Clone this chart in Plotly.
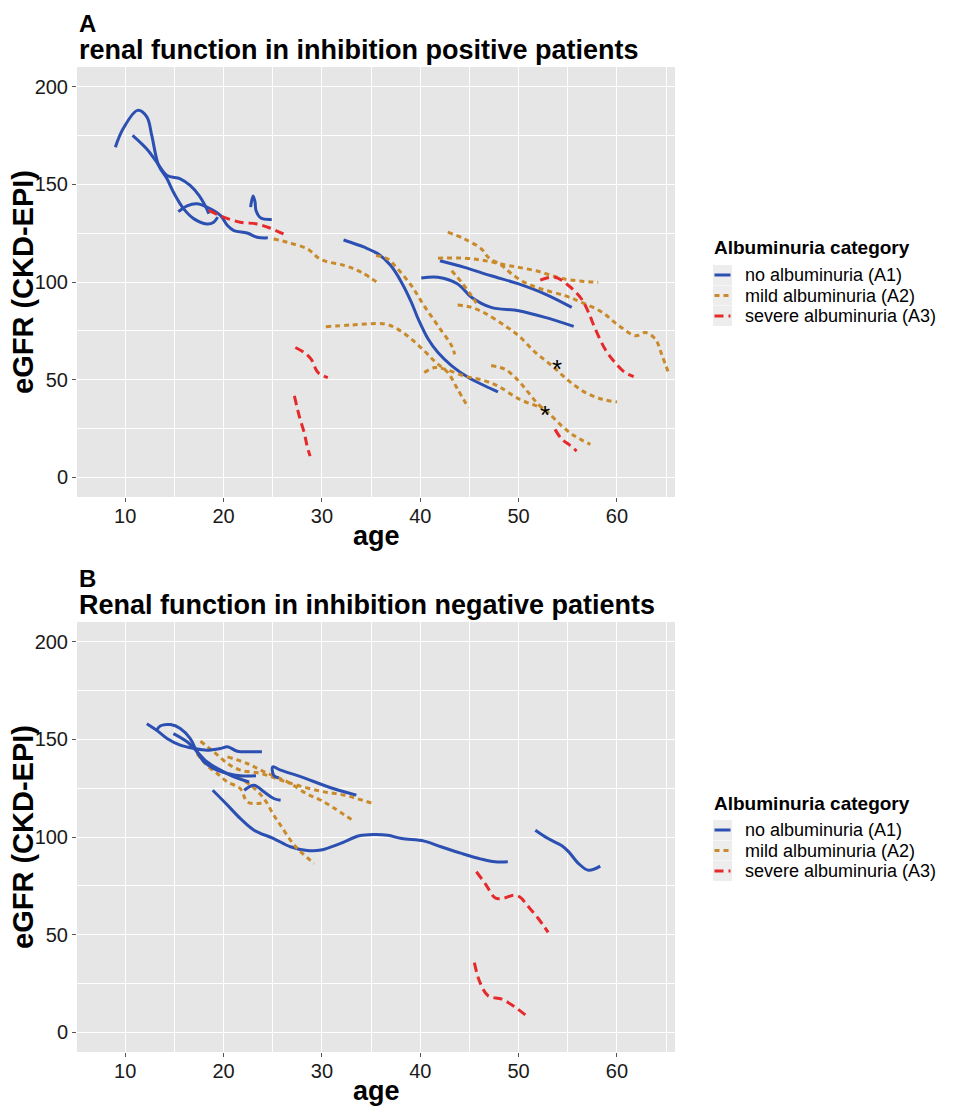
import plotly.graph_objects as go

# ---------------- data ----------------
# Panel A: inhibition positive patients
# no albuminuria (A1)
a_no1_age = [9.0, 9.8, 11.26, 12.2, 12.7, 13.4, 14.25, 14.9, 15.95, 17.0, 18.3, 19.0, 19.4]
a_no1_egfr = [169, 178.5, 187.8, 184.5, 175, 159.6, 152.8, 146, 137.4, 132.3, 129.7, 130.6, 133.2]
a_no2_age = [10.75, 12.2, 13.2, 14.25, 15.6, 16.6, 17.5, 18.2, 18.5]
a_no2_egfr = [175, 168, 161.4, 154.5, 152.8, 149.4, 144.3, 138.3, 134.9]
a_no3_age = [15.4, 16.3, 17.3, 18.3, 19.7, 20.4, 21.05, 22.4, 23.4, 24.5]
a_no3_egfr = [136, 139, 140, 138.3, 134, 128.9, 126.3, 125.1, 122.9, 122.6]
a_no4_age = [22.75, 23.0, 23.2, 23.3, 23.8, 24.9]
a_no4_egfr = [138.3, 144, 141, 136.6, 132.7, 132]
a_no5_age = [32.2, 34.3, 35.7, 37.0, 38.1, 39.1, 39.8, 40.8, 41.8, 43.2, 44.9, 46.6, 47.9]
a_no5_egfr = [121.5, 117.8, 114.4, 108.4, 99.8, 89.6, 81, 70.8, 63.9, 57.1, 51.1, 46.8, 43.8]
a_no6_age = [42.0, 44.5, 47.2, 50.0, 52.7, 55.4]
a_no6_egfr = [110.9, 107.5, 103.2, 99, 93.8, 87.0]
a_no7_age = [40.1, 41.8, 43.8, 45.2, 47.2, 50.0, 52.7, 55.6]
a_no7_egfr = [102, 102.4, 99, 92.2, 87, 85.3, 81.9, 77.3]
# mild albuminuria (A2)
a_mi1_age = [25.1, 26.5, 28.5, 29.9, 32.3, 34.0, 35.85]
a_mi1_egfr = [122, 120.3, 117, 111.5, 108.4, 105, 99]
a_mi2_age = [35.5, 36.7, 37.7, 39.1, 40.4, 41.8, 43.2, 43.5]
a_mi2_egfr = [113.5, 111.8, 106.7, 98.1, 87.8, 77.6, 67.3, 63]
a_mi3_age = [30.4, 33.0, 36.4, 37.7, 39.1, 40.4, 41.6, 42.8, 43.8, 44.9]
a_mi3_egfr = [77.1, 78, 78.5, 75.9, 70.8, 64.8, 58.8, 53.7, 45.1, 35.7]
a_mi4_age = [40.4, 41.5, 42.5, 44.5, 46.6, 48.0, 50.1, 52.5]
a_mi4_egfr = [53.7, 56.2, 55.4, 51.9, 49.4, 46.5, 40, 35.5]
a_mi5_age = [47.2, 48.6, 50.0, 51.0, 52.0, 53.0, 54.4, 55.7, 57.3]
a_mi5_egfr = [57.1, 55.4, 49.4, 43.4, 37.4, 33.2, 26.3, 21.2, 16.9]
a_mi6_age = [42.8, 44.5, 46.2, 46.9, 48.3, 49.3, 50.6, 52.3, 54.7, 56.4, 58.5, 60.2, 61.9, 62.9, 63.9, 64.6, 65.3]
a_mi6_egfr = [125.5, 122, 117, 112.7, 108.4, 104.1, 99.8, 96.4, 93, 89.6, 84.5, 77.6, 72.5, 74.2, 70.8, 62.2, 52.8]
a_mi7_age = [41.8, 44.5, 46.6, 49.0, 51.7, 54.7, 58.1]
a_mi7_egfr = [112.2, 112.2, 110.9, 108.4, 105.8, 101.5, 99.8]
a_mi8_age = [43.2, 44.2, 45.2, 45.9]
a_mi8_egfr = [105.8, 99.8, 93, 87.8]
a_mi9_age = [43.8, 45.2, 46.6, 48.6, 50.0, 51.7, 53.4, 55.1, 56.8, 58.5, 60.0]
a_mi9_egfr = [88.2, 87, 84, 77.6, 72.5, 64, 57.1, 49.4, 43.4, 40, 38.6]
# severe albuminuria (A3)
a_se1_age = [18.5, 20.0, 21.7, 23.4, 24.5, 26.5]
a_se1_egfr = [136.6, 133.2, 130.6, 129.7, 128, 123.7]
a_se2_age = [27.3, 28.2, 28.9, 29.6, 30.6]
a_se2_egfr = [66.5, 63.9, 60.5, 53.7, 51.1]
a_se3_age = [27.2, 27.7, 28.2, 28.5, 28.8]
a_se3_egfr = [41.7, 31.4, 22.9, 16, 10.9]
a_se4_age = [53.7, 54.4, 55.1, 55.9]
a_se4_egfr = [24.6, 19.5, 16.9, 13.5]
a_se5_age = [52.2, 53.7, 55.1, 56.4, 57.1, 57.8, 58.8, 59.8, 60.8, 61.7]
a_se5_egfr = [101, 102.4, 98.1, 91.3, 84.5, 75.9, 65.6, 58.8, 53.7, 51.6]
# asterisk markers in panel A
a_star_age = [53.9, 52.7]
a_star_egfr = [59.3, 35.7]

# Panel B: inhibition negative patients
b_no1_age = [12.2, 13.2, 14.25, 15.6, 17.0, 18.3, 19.7, 20.4, 21.4, 22.75, 23.9]
b_no1_egfr = [158, 154.6, 150.4, 147, 145.3, 144.4, 145.3, 146.2, 143.9, 143.6, 143.6]
b_no2_age = [13.2, 13.6, 14.6, 15.6, 16.6, 17.3, 18.0, 19.0, 20.4, 21.7, 23.3]
b_no2_egfr = [154.6, 156.9, 157.5, 155.5, 150.4, 143.6, 138.5, 135, 132.5, 131.3, 131.3]
b_no3_age = [14.9, 16.3, 17.0, 18.3, 19.7, 21.05, 22.6]
b_no3_egfr = [152.9, 148.7, 145.3, 138.5, 134.2, 130.8, 128.2]
b_no4_age = [22.1, 23.1, 24.1, 25.1, 25.8]
b_no4_egfr = [123.9, 126.5, 123.1, 119.7, 118.8]
b_no5_age = [18.9, 20.4, 21.7, 23.1, 25.1, 26.8, 28.5, 29.9, 31.9, 33.8, 35.3, 36.7, 38.1, 40.4, 42.1, 44.2, 46.2, 47.6, 48.9]
b_no5_egfr = [123.9, 116.3, 109.5, 103.5, 99.2, 95, 93.1, 93.3, 96.7, 100.6, 101.3, 100.9, 99.2, 97.9, 95, 91.6, 88.7, 87.3, 87.3]
b_no6_age = [51.7, 53.0, 54.4, 55.1, 56.1, 57.1, 58.3]
b_no6_egfr = [103.5, 99.2, 95.5, 92.4, 86.4, 83, 85.1]
b_no7_age = [25.6, 25.1, 25.0, 25.8, 27.9, 30.6, 33.5]
b_no7_egfr = [130.2, 131.5, 135.9, 134.2, 130.8, 125.7, 121.4]
b_mi1_age = [17.65, 19.0, 20.4, 21.7, 23.8, 25.8, 27.5, 29.9, 32.3, 35.2]
b_mi1_egfr = [149, 143.6, 137.6, 134.2, 132.5, 129.1, 126.5, 123.4, 121.4, 117.1]
b_mi2_age = [20.4, 22.4, 24.1, 26.5, 28.5, 29.9, 31.3, 33.0]
b_mi2_egfr = [141, 137.6, 133.4, 128.2, 122, 118.8, 114.6, 108.9]
b_mi3_age = [17.3, 18.3, 19.35, 20.4, 21.7, 22.4, 23.4, 24.3]
b_mi3_egfr = [142.7, 136.7, 132.5, 128.2, 124.8, 118, 117.1, 118]
b_mi4_age = [21.4, 22.75, 24.1, 25.1, 25.8, 27.2, 29.2]
b_mi4_egfr = [130.8, 126.5, 119.7, 111.2, 106, 95.8, 86.4]
b_se1_age = [45.7, 46.6, 47.6, 48.3, 49.5, 50.1, 51.0, 52.0, 53.0]
b_se1_egfr = [82.2, 76.2, 68.9, 68.5, 70.2, 69.4, 64.3, 58.3, 51.2]
b_se2_age = [45.5, 46.05, 46.9, 48.3, 49.6, 50.8]
b_se2_egfr = [35.7, 25.9, 18.8, 17, 13.1, 8.5]

categories = ["no albuminuria (A1)", "mild albuminuria (A2)", "severe albuminuria (A3)"]
x_ticks = [10, 20, 30, 40, 50, 60]
y_ticks = [0, 50, 100, 150, 200]

# ---------------- styling ----------------
# the page body has an 8px default margin; the figure is laid out in page pixels
OFF = 8
W, H = 957 - OFF, 1108 - OFF
BLUE, ORANGE, RED = "#2C4FB2", "#C98A2B", "#E62A2B"
STYLE = {
    categories[0]: dict(color=BLUE, dash="solid"),
    categories[1]: dict(color=ORANGE, dash="5px,4px"),
    categories[2]: dict(color=RED, dash="9px,5px"),
}
FONT = "Arial, Liberation Sans, sans-serif"

panel_a = [
    (a_no1_age, a_no1_egfr, 0), (a_no2_age, a_no2_egfr, 0), (a_no3_age, a_no3_egfr, 0),
    (a_no4_age, a_no4_egfr, 0), (a_no5_age, a_no5_egfr, 0), (a_no6_age, a_no6_egfr, 0),
    (a_no7_age, a_no7_egfr, 0),
    (a_mi1_age, a_mi1_egfr, 1), (a_mi2_age, a_mi2_egfr, 1), (a_mi3_age, a_mi3_egfr, 1),
    (a_mi4_age, a_mi4_egfr, 1), (a_mi5_age, a_mi5_egfr, 1), (a_mi6_age, a_mi6_egfr, 1),
    (a_mi7_age, a_mi7_egfr, 1), (a_mi8_age, a_mi8_egfr, 1), (a_mi9_age, a_mi9_egfr, 1),
    (a_se1_age, a_se1_egfr, 2), (a_se2_age, a_se2_egfr, 2), (a_se3_age, a_se3_egfr, 2),
    (a_se4_age, a_se4_egfr, 2), (a_se5_age, a_se5_egfr, 2),
]
panel_b = [
    (b_no5_age, b_no5_egfr, 0), (b_no6_age, b_no6_egfr, 0),
    (b_mi1_age, b_mi1_egfr, 1), (b_mi2_age, b_mi2_egfr, 1), (b_mi3_age, b_mi3_egfr, 1),
    (b_mi4_age, b_mi4_egfr, 1),
    (b_no1_age, b_no1_egfr, 0), (b_no2_age, b_no2_egfr, 0), (b_no3_age, b_no3_egfr, 0),
    (b_no4_age, b_no4_egfr, 0), (b_no7_age, b_no7_egfr, 0),
    (b_se1_age, b_se1_egfr, 2), (b_se2_age, b_se2_egfr, 2),
]

fig = go.Figure()
for panel, (xa, ya) in ((panel_a, ("x", "y")), (panel_b, ("x2", "y2"))):
    for ages, egfr, ci in panel:
        st = STYLE[categories[ci]]
        fig.add_trace(go.Scatter(
            x=ages, y=egfr, mode="lines", xaxis=xa, yaxis=ya,
            line=dict(color=st["color"], dash=st["dash"], width=3, shape="spline", smoothing=1.0),
            name=categories[ci], showlegend=False, hoverinfo="skip",
        ))


def px_x(p):
    return (p - OFF) / W


def px_y(p):
    return 1 - (p - OFF) / H


plot_left, plot_right = 77, 675
a_top, a_bot = 67, 497
b_top, b_bot = 622, 1052

axis_common = dict(
    showgrid=True, gridcolor="white", gridwidth=1.4, zeroline=False,
    ticks="outside", ticklen=4, tickcolor="#555", tickwidth=1,
    tickfont=dict(family=FONT, size=20, color="#1a1a1a"),
    showline=False,
)
xcommon = dict(axis_common, range=[5.1, 65.9], tickmode="array", tickvals=x_ticks,
               ticklabelstandoff=-3,
               minor=dict(showgrid=True, gridcolor="white", gridwidth=0.7, dtick=5, tick0=5, ticks=""),
               domain=[px_x(plot_left), px_x(plot_right)])
ycommon = dict(axis_common, range=[-10, 210], tickmode="array", tickvals=y_ticks,
               minor=dict(showgrid=True, gridcolor="white", gridwidth=0.7, dtick=25, tick0=25, ticks=""))

fig.update_layout(
    width=W, height=H,
    margin=dict(l=0, r=0, t=0, b=0),
    paper_bgcolor="white", plot_bgcolor="#E6E6E6",
    showlegend=False,
    font=dict(family=FONT, color="black"),
    xaxis=dict(xcommon, anchor="y"),
    yaxis=dict(ycommon, anchor="x", domain=[px_y(a_bot), px_y(a_top)]),
    xaxis2=dict(xcommon, anchor="y2"),
    yaxis2=dict(ycommon, anchor="x2", domain=[px_y(b_bot), px_y(b_top)]),
)

annotations = []
shapes = []


def text_ann(txt, x, y, size, bold=False, xanchor="left", angle=0):
    annotations.append(dict(
        text=f"<b>{txt}</b>" if bold else txt, x=px_x(x), y=px_y(y), xref="paper", yref="paper",
        xanchor=xanchor, yanchor="middle", showarrow=False, textangle=angle,
        font=dict(family=FONT, size=size, color="black"),
    ))


for letter, title, top, bot in (("A", "renal function in inhibition positive patients", a_top, a_bot),
                                ("B", "Renal function in inhibition negative patients", b_top, b_bot)):
    text_ann(letter, plot_left, top - 44, 24, bold=True)
    text_ann(title, plot_left, top - 17, 27, bold=True)
    text_ann("eGFR (CKD-EPI)", 23, (top + bot) / 2, 29, bold=True, xanchor="center", angle=-90)
    text_ann("age", (plot_left + plot_right) / 2, bot + 39, 27, bold=True, xanchor="center")
    # legend (drawn as text + key shapes)
    off = top - a_top
    text_ann("Albuminuria category", 712, 248 + off, 19, bold=True)
    for i, cat in enumerate(categories):
        yc = 275 + off + 20.5 * i
        text_ann(cat, 743, yc, 18)
        shapes.append(dict(type="rect", xref="paper", yref="paper",
                           x0=px_x(713), x1=px_x(732), y0=px_y(yc + 10), y1=px_y(yc - 10),
                           fillcolor="#EDEDED", line=dict(width=0), layer="below"))
        st = STYLE[cat]
        shapes.append(dict(type="line", xref="paper", yref="paper",
                           x0=px_x(714.5), x1=px_x(730.5), y0=px_y(yc), y1=px_y(yc),
                           line=dict(color=st["color"], width=3, dash=st["dash"])))

# asterisks in panel A
for sx, sy in zip(a_star_age, a_star_egfr):
    annotations.append(dict(text="*", x=sx, y=sy, xref="x", yref="y", showarrow=False,
                            yshift=-7, font=dict(family=FONT, size=26, color="black")))

fig.update_layout(annotations=annotations, shapes=shapes)
fig.write_html("out.html")
